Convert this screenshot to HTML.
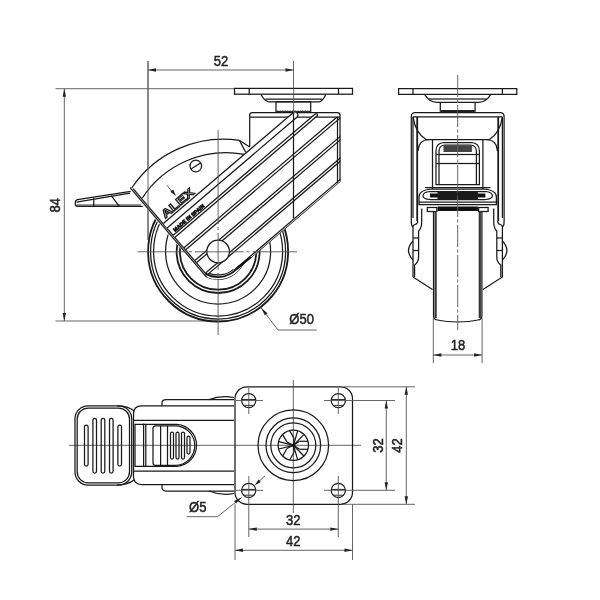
<!DOCTYPE html>
<html><head><meta charset="utf-8">
<style>
html,body{margin:0;padding:0;background:#fff;}
svg{display:block;will-change:transform;}
.o{fill:none;stroke:#1a1a1a;stroke-width:1.25;}
.t{fill:none;stroke:#1a1a1a;stroke-width:1.8;}
.d{fill:none;stroke:#555;stroke-width:0.9;}
.c{fill:none;stroke:#555;stroke-width:0.9;stroke-dasharray:22 2.5 3 2.5;}
.ar{fill:#222;stroke:none;}
text{font-family:"Liberation Sans",sans-serif;font-size:14px;fill:#333;}
.dt{font-size:14.8px;fill:#222;stroke:#222;stroke-width:0.5;}
</style></head>
<body>
<svg width="600" height="600" viewBox="0 0 600 600">
<rect width="600" height="600" fill="#fff"/>

<!-- ===== SIDE VIEW ===== -->
<g id="side">
<!-- dimension 52 -->
<line class="d" x1="148" y1="61" x2="148" y2="240"/>
<line class="d" x1="293.5" y1="61" x2="293.5" y2="88"/>
<line class="d" x1="148" y1="70" x2="293.5" y2="70"/>
<path class="ar" d="M148,70 L156,68.3 L156,71.7Z"/>
<path class="ar" d="M293.5,70 L285.5,68.3 L285.5,71.7Z"/>
<text class="dt" transform="translate(220.9,65.8) scale(0.88,1)" text-anchor="middle">52</text>
<!-- dimension 84 -->
<line class="d" x1="55.5" y1="88.7" x2="234" y2="88.7"/>
<line class="d" x1="55.5" y1="321" x2="218" y2="321"/>
<line class="d" x1="64.3" y1="88.7" x2="64.3" y2="321"/>
<path class="ar" d="M64.3,88.7 L62.6,96.7 L66,96.7Z"/>
<path class="ar" d="M64.3,321 L62.6,313 L66,313Z"/>
<text class="dt" transform="translate(60,205.2) rotate(-90) scale(0.88,1)" text-anchor="middle">84</text>
<!-- Ø50 leader -->
<path class="d" d="M261.3,308 L278,330 L316.7,330"/>
<path class="ar" d="M261.3,308 L267.5,313.3 L264.8,315.3Z"/>
<text class="dt" transform="translate(289.3,324) scale(0.88,1)">Ø50</text>

<!-- wheel -->
<g transform="translate(218.1,251.5)">
<circle class="t" r="70"/>
<circle class="o" r="67.5"/>
<circle class="o" r="64.5"/>
<circle class="o" r="52.5"/>
<circle class="t" r="41.5"/>
<circle class="t" r="38.2"/>
</g>

<!-- plate -->
<rect class="o" x="234.5" y="88.4" width="118" height="5.8"/>
<line class="o" x1="249.2" y1="88.4" x2="249.2" y2="94.2"/>
<line class="o" x1="338.5" y1="88.4" x2="338.5" y2="94.2"/>
<path class="o" d="M261,94.2 Q263.5,100 268.5,101.8 L319.5,101.8 Q323.5,100 325.8,94.2"/>
<line class="o" x1="265.5" y1="99" x2="322" y2="99"/>
<rect class="o" x="276" y="101.8" width="34.7" height="9.9"/>
<line x1="277" y1="111" x2="310" y2="111" style="stroke:#444;stroke-width:1;stroke-dasharray:1.5 1"/>
<line class="d" x1="293.7" y1="88" x2="293.7" y2="113"/>
<!-- brake housing + fork outline (white fill to occlude wheel) -->
<path fill="#fff" stroke="none" d="M128.7,188.4 L131.7,186 A110.5,110.5 0 0 1 239.3,140.3 L249.7,147 L249.7,117.5 L280,117.5 L290,112.2 L320,112.2 L340.5,117.5 L340.5,181.8 L243.3,264.8 A28.5,28.5 0 0 1 204.8,276.7 Z"/>
<!-- brake housing arcs -->
<path class="o" d="M131.7,188 A110.5,110.5 0 0 1 239.3,140.3 L249.7,147"/>
<path class="o" d="M239.3,140.3 L245.7,152.3"/>
<path class="o" d="M142.3,198 A100,100 0 0 1 244.3,154.3"/>
<circle class="o" cx="195.8" cy="166" r="5.8"/>
<line class="o" x1="191" y1="169" x2="200.5" y2="163"/>
<!-- housing -->
<path class="o" d="M249.7,147 L249.7,115 Q249.7,112.7 252.5,112.7 L337.5,112.7 Q340,112.7 340,115 L340,181"/>
<line class="o" x1="249.7" y1="117" x2="340" y2="117"/>
<line class="o" x1="337.5" y1="117" x2="337.5" y2="183"/>
<defs><clipPath id="fk"><path d="M128.7,188.4 L131.7,186 A110.5,110.5 0 0 1 239.3,140.3 L249.7,147 L249.7,117.5 L280,117.5 L290,112.2 L320,112.2 L340.5,117.5 L340.5,181.8 L243.3,264.8 A28.5,28.5 0 0 1 204.8,276.7 Z"/></clipPath></defs>
<g clip-path="url(#fk)">
<g transform="translate(218.1,251.5) rotate(-40.5)">
<line class="o" x1="-25.5" y1="-106" x2="-25.5" y2="12.7"/>
<line class="o" x1="-23.8" y1="-103" x2="-23.8" y2="10.7"/>
<path class="o" style="fill:#fff" d="M-23.5,-56.8 L147.1,-56.8 A2.9,2.9 0 0 1 147.1,-51 L-23.5,-51"/>
<path class="o" style="fill:#fff" d="M-23.5,-41.5 L163.2,-41.5 A1.35,1.35 0 0 1 163.2,-38.8 L-23.5,-38.8"/>
<line class="o" x1="-23.5" y1="-25" x2="200" y2="-25"/>
<line class="o" x1="-23.5" y1="-22.3" x2="200" y2="-22.3"/>
<line class="o" x1="-23.5" y1="-8.2" x2="200" y2="-8.2"/>
<line class="o" x1="-23.5" y1="-5.5" x2="200" y2="-5.5"/>
<line class="o" x1="-23.5" y1="8.2" x2="200" y2="8.2"/>
<line class="o" x1="-23.5" y1="10.7" x2="200" y2="10.7"/>
<line class="o" x1="0" y1="24.5" x2="200" y2="24.5"/>
<line class="o" x1="10.5" y1="26.5" x2="200" y2="26.5"/>
<path class="o" d="M-20.9,10.7 A23.5,23.5 0 0 0 0,23.5"/>
<path class="t" d="M-24,8.6 A25.5,25.5 0 0 0 7,24.5"/>
<path class="o" d="M-25.5,12.7 A28.5,28.5 0 0 0 10.5,26.5"/>
<path d="M3,25.5 L21,25.5" style="stroke:#111;stroke-width:2.2"/>
<text x="0.5" y="-59.3" text-anchor="middle" textLength="39" lengthAdjust="spacingAndGlyphs" style="font-size:11.5px;font-weight:bold;fill:#fff;stroke:#1a1a1a;stroke-width:1.1">ALEX</text>
<text x="-0.5" y="-42.8" text-anchor="middle" textLength="39" lengthAdjust="spacingAndGlyphs" style="font-size:5.2px;font-weight:bold;fill:#111;stroke:#111;stroke-width:0.7">MADE IN SPAIN</text>
</g>
</g>
<circle cx="218.1" cy="251.5" r="11.3" style="fill:#fff;stroke:#1a1a1a;stroke-width:1.25"/>
<line class="o" x1="293.5" y1="113" x2="293.5" y2="218.3"/>

<!-- wheel center lines -->
<path class="d" d="M218.1,130 V224 M218.1,227 V230 M218.1,233 V270 M218.1,273 V276 M218.1,279 V335"/>
<line class="d" x1="137.5" y1="251.8" x2="297" y2="251.8" style="stroke-dasharray:48.5 3 3 3"/>
<line class="d" x1="148" y1="61" x2="148" y2="240"/>
<line class="d" x1="166.7" y1="185" x2="172" y2="191.5"/>
<path class="ar" d="M176,196 L170.3,191.8 L173.2,189.4Z"/>
<!-- brake lever -->
<path class="o" d="M130.7,191.3 L77.5,199.6 Q75.3,200 75.3,202.5 L75.3,204 Q75.3,206.3 77.5,206.3 L142.7,206.3"/>
<path class="o" d="M76.5,202.2 L130,193.2"/>
<line class="o" x1="76.5" y1="205" x2="141" y2="205" style="stroke-width:0.9"/>
<line class="o" x1="93.7" y1="198.2" x2="93.7" y2="206.3"/>
<line class="o" x1="111.3" y1="195.6" x2="119.3" y2="206.3"/>
</g>

<!-- ===== FRONT VIEW ===== -->
<g id="front">
<defs>
<g id="fl">
<!-- plate -->
<path class="o" d="M457.7,88.5 L398.6,88.5 L398.6,94.3 L457.7,94.3"/>
<line class="o" x1="413" y1="88.5" x2="413" y2="94.3"/>
<!-- dome -->
<path class="o" d="M424.5,94.3 C428,99.5 431,102.3 437,102.3 L457.7,102.3"/>
<line class="o" x1="428.5" y1="99" x2="457.7" y2="99"/>
<!-- neck -->
<path class="o" d="M440.3,102.3 L440.3,111 L457.7,111"/>
<line class="t" x1="441" y1="111" x2="457.7" y2="111"/>
<!-- housing -->
<path class="o" d="M411.3,222 L411.3,116.5 Q411.3,112.6 415.3,112.6 L457.7,112.6"/>
<line class="o" x1="413" y1="116.8" x2="457.7" y2="116.8"/>
<line class="o" x1="413" y1="116.8" x2="413" y2="218"/>
<line class="t" x1="417.2" y1="117" x2="417.2" y2="221"/>
<path class="o" d="M413,116.8 Q415.5,133 426,139.5 L457.7,139.5"/>
<path class="o" d="M418,151 Q418.5,140 429,139.5"/>
<line class="o" x1="432.5" y1="139.5" x2="432.5" y2="189"/>
<!-- brake pad window -->
<path class="o" d="M457.7,142.5 L444,142.5 Q436,143 436,151 L436,184.5 L457.7,184.5"/>
<path class="o" d="M457.7,145 L445,145 Q439,145.5 439,151 L439,184.5"/>
<rect x="443.5" y="146" width="14.2" height="6" fill="#444"/>
<line class="o" x1="436" y1="154.5" x2="457.7" y2="154.5"/>
<line class="o" x1="436" y1="163.5" x2="457.7" y2="163.5"/>
<line class="o" x1="425" y1="187.5" x2="457.7" y2="187.5"/>
<!-- brake band -->
<path class="o" d="M457.7,189 L432,189 Q419,190 419,197 L419,204.5 L457.7,204.5"/>
<path class="o" d="M457.7,191.5 L430,191.5 Q423,192 423,196 Q423,199 430,199.5 L457.7,199.5"/>
<rect x="430" y="193.5" width="27.7" height="4" fill="#111"/>
<rect x="437.5" y="191.5" width="20.2" height="7.5" fill="#1a1a1a"/>
<line class="o" x1="419" y1="202" x2="457.7" y2="202"/>
<rect x="437.5" y="206.5" width="20.2" height="4.5" fill="#111"/>
<rect class="o" x="427.3" y="207.5" width="9.5" height="4"/>
<!-- leg -->
<path class="o" d="M411.3,222 Q411.3,226 413,227 L413,277 L432.5,289.5"/>
<path class="o" d="M417.7,221 Q417.7,224 415,224.5 Q413,225 413,227"/>
<path class="o" d="M421.7,208.5 L421.7,222 Q421.7,228 418.6,231 L418.6,257 Q418.6,262 414.6,265 L414.6,277"/>
<path class="o" d="M413,241 Q404,250.5 413,260"/>
<line class="o" x1="413" y1="238" x2="418.6" y2="238"/>
<line class="o" x1="413" y1="250.5" x2="418.6" y2="250.5"/>
<!-- wheel -->
<line class="o" x1="433.5" y1="211" x2="433.5" y2="316"/>
<line x1="435.6" y1="211" x2="435.6" y2="318" style="stroke:#333;stroke-width:2.2"/>
<path class="o" d="M433.5,316 Q433.6,319.6 437.5,320 Q446,321.8 457.7,322"/>
</g>
</defs>
<use href="#fl"/>
<use href="#fl" transform="translate(915.4,0) scale(-1,1)"/>
<line class="c" x1="457.7" y1="75" x2="457.7" y2="330"/>
<!-- dim 18 -->
<line class="d" x1="433.3" y1="318" x2="433.3" y2="363"/>
<line class="d" x1="482.1" y1="318" x2="482.1" y2="363"/>
<line class="d" x1="433.3" y1="355" x2="482.1" y2="355"/>
<path class="ar" d="M433.3,355 L441.3,353.3 L441.3,356.7Z"/>
<path class="ar" d="M482.1,355 L474.1,353.3 L474.1,356.7Z"/>
<text class="dt" transform="translate(458,350.4) scale(0.88,1)" text-anchor="middle">18</text>
</g>

<!-- ===== BOTTOM VIEW ===== -->
<g id="bottom">
<line class="d" x1="69" y1="445.3" x2="361" y2="445.3"/>
<line class="d" x1="293.3" y1="380" x2="293.3" y2="513"/>
<!-- pedal -->
<rect class="o" x="75" y="405.8" width="56.7" height="79.2" rx="13"/>
<rect class="o" x="77.2" y="408" width="52.3" height="74.8" rx="11"/>
<rect class="o" x="84.5" y="425" width="3.6" height="41" rx="1.8"/>
<rect class="o" x="92.9" y="418.3" width="3.6" height="54.7" rx="1.8"/>
<rect class="o" x="101.2" y="418.3" width="3.6" height="54.7" rx="1.8"/>
<rect class="o" x="109.5" y="418.3" width="3.6" height="54.7" rx="1.8"/>
<rect class="o" x="117.9" y="425" width="3.6" height="41" rx="1.8"/>
<!-- body -->
<path class="o" d="M234,405.8 L141.5,405.8 Q134,406 133.5,413 L133.5,477 Q134,484.5 141.5,484.5 L234,484.5"/>
<path class="o" d="M117,405.8 Q128,405.8 134.3,411"/>
<path class="o" d="M117,485 Q128,485 134.3,479.8"/>
<line class="o" x1="133" y1="420.4" x2="234" y2="420.4"/>
<line class="o" x1="133" y1="471" x2="234" y2="471"/>
<path class="o" d="M162,406 L162,403 Q162,399.6 166,399.6 L234,399.6"/>
<path class="o" d="M209,399.6 Q221,395 234,397.5"/>
<path class="o" d="M162,484.5 L162,487.5 Q162,491 166,491 L234,491"/>
<path class="o" d="M209,491 Q221,496 234,493.5"/>
<!-- slider -->
<path class="o" d="M135,424.4 L177,424.4 A21,21 0 0 1 177,466.3 L135,466.3 Z"/>
<path class="o" d="M155.5,425.8 L175,425.8 A19.8,19.8 0 0 1 175,465.4 L155.5,465.4 Q153,465.4 153,463 L153,428.2 Q153,425.8 155.5,425.8 Z"/>
<line class="o" x1="143.6" y1="423.6" x2="143.6" y2="467"/>
<line class="o" x1="145.8" y1="425" x2="145.8" y2="466"/>
<line class="o" x1="160.6" y1="425.8" x2="160.6" y2="465.4"/>
<line class="o" x1="167.5" y1="425.8" x2="167.5" y2="465.4"/>
<rect class="o" x="170.5" y="432" width="3" height="27" rx="1.5"/>
<rect class="o" x="176" y="432" width="3" height="27" rx="1.5"/>
<rect class="o" x="181.5" y="432" width="3" height="27" rx="1.5"/>
<rect class="o" x="187" y="436" width="3" height="18" rx="1.5"/>
<!-- plate -->
<rect class="o" x="235" y="386.8" width="117.5" height="117.5" rx="12"/>
<g class="o">
<circle cx="248.7" cy="400.6" r="7.1"/>
<line x1="241.7" y1="399.6" x2="255.7" y2="399.6" style="stroke-width:1"/>
<line x1="243.5" y1="405.4" x2="253.9" y2="405.4" style="stroke-width:0.9"/>
<circle cx="338.3" cy="400.6" r="7.1"/>
<line x1="331.3" y1="399.6" x2="345.3" y2="399.6" style="stroke-width:1"/>
<line x1="333.1" y1="405.4" x2="343.5" y2="405.4" style="stroke-width:0.9"/>
<circle cx="248.7" cy="490.4" r="7.1"/>
<line x1="241.7" y1="489.4" x2="255.7" y2="489.4" style="stroke-width:1"/>
<line x1="243.5" y1="495.2" x2="253.9" y2="495.2" style="stroke-width:0.9"/>
<circle cx="338.3" cy="490.4" r="7.1"/>
<line x1="331.3" y1="489.4" x2="345.3" y2="489.4" style="stroke-width:1"/>
<line x1="333.1" y1="495.2" x2="343.5" y2="495.2" style="stroke-width:0.9"/>
</g>
<g class="d">
<line x1="236" y1="400.5" x2="263" y2="400.5"/>
<line x1="248.8" y1="388" x2="248.8" y2="414"/>
<line x1="324" y1="400.5" x2="395" y2="400.5"/>
<line x1="338.3" y1="388" x2="338.3" y2="414"/>
<line x1="236" y1="490.3" x2="263" y2="490.3"/>
<line x1="248.8" y1="476" x2="248.8" y2="537"/>
<line x1="324" y1="490.3" x2="395" y2="490.3"/>
<line x1="338.3" y1="476" x2="338.3" y2="537"/>
</g>
<g transform="translate(293.3,445.3)">
<circle class="o" r="35.3"/>
<circle class="o" r="27.3"/>
<circle class="o" r="22.5"/>
<circle class="o" r="15.2"/>
</g>
<g style="stroke-width:0.9"><line class="o" x1="299.5" y1="441.3" x2="308.2" y2="441.3"/>
<line class="o" x1="293.5" y1="445.3" x2="299.5" y2="441.3"/>
<line class="o" x1="299.5" y1="449.3" x2="308.2" y2="449.3"/>
<line class="o" x1="293.5" y1="445.3" x2="299.5" y2="449.3"/>
<line class="o" x1="287.0" y1="442.1" x2="282.7" y2="434.6"/>
<line class="o" x1="293.5" y1="445.3" x2="287.0" y2="442.1"/>
<line class="o" x1="294.0" y1="438.1" x2="289.6" y2="430.6"/>
<line class="o" x1="293.5" y1="445.3" x2="294.0" y2="438.1"/>
<line class="o" x1="294.0" y1="452.5" x2="289.6" y2="460.0"/>
<line class="o" x1="293.5" y1="445.3" x2="294.0" y2="452.5"/>
<line class="o" x1="287.0" y1="448.5" x2="282.7" y2="456.0"/>
<line class="o" x1="293.5" y1="445.3" x2="287.0" y2="448.5"/>
<line class="o" x1="293.5" y1="445.3" x2="304.1" y2="434.4"/>
<line class="o" x1="293.5" y1="445.3" x2="297.7" y2="430.7"/>
<line class="o" x1="293.5" y1="445.3" x2="278.8" y2="441.6"/>
<line class="o" x1="293.5" y1="445.3" x2="278.8" y2="449.0"/>
<line class="o" x1="293.5" y1="445.3" x2="297.7" y2="459.9"/>
<line class="o" x1="293.5" y1="445.3" x2="304.1" y2="456.2"/></g>
<circle cx="293.5" cy="445.3" r="1.6" fill="#111"/>
<!-- dims right -->
<line class="d" x1="344" y1="386.8" x2="415" y2="386.8"/>
<line class="d" x1="344" y1="504.3" x2="415" y2="504.3"/>
<line class="d" x1="386.3" y1="400.5" x2="386.3" y2="490.3"/>
<path class="ar" d="M386.3,400.5 L384.6,408.5 L388,408.5Z"/>
<path class="ar" d="M386.3,490.3 L384.6,482.3 L388,482.3Z"/>
<line class="d" x1="406.3" y1="386.8" x2="406.3" y2="504.3"/>
<path class="ar" d="M406.3,386.8 L404.6,394.8 L408,394.8Z"/>
<path class="ar" d="M406.3,504.3 L404.6,496.3 L408,496.3Z"/>
<text class="dt" transform="translate(382.6,445.6) rotate(-90) scale(0.88,1)" text-anchor="middle">32</text>
<text class="dt" transform="translate(402.1,445.6) rotate(-90) scale(0.88,1)" text-anchor="middle">42</text>
<!-- dims bottom -->
<line class="d" x1="235" y1="504.3" x2="235" y2="560"/>
<line class="d" x1="352.5" y1="504.3" x2="352.5" y2="560"/>
<line class="d" x1="248.8" y1="529.1" x2="338.3" y2="529.1"/>
<path class="ar" d="M248.8,529.1 L256.8,527.4 L256.8,530.8Z"/>
<path class="ar" d="M338.3,529.1 L330.3,527.4 L330.3,530.8Z"/>
<line class="d" x1="235" y1="550.3" x2="352.5" y2="550.3"/>
<path class="ar" d="M235,550.3 L243,548.6 L243,552Z"/>
<path class="ar" d="M352.5,550.3 L344.5,548.6 L344.5,552Z"/>
<text class="dt" transform="translate(293.3,525) scale(0.88,1)" text-anchor="middle">32</text>
<text class="dt" transform="translate(293.3,545.8) scale(0.88,1)" text-anchor="middle">42</text>
<!-- Ø5 -->
<path class="d" d="M241.7,497.5 L217.5,516.7 L186.7,516.7"/>
<path class="ar" d="M242,497.3 L236,503.5 L234,501Z"/>
<line class="d" x1="265" y1="475.8" x2="256" y2="484"/>
<path class="ar" d="M254.5,485.5 L258.5,479.5 L260.8,482Z"/>
<text class="dt" transform="translate(189,511.7) scale(0.88,1)">Ø5</text>
</g>
</svg>
</body></html>
